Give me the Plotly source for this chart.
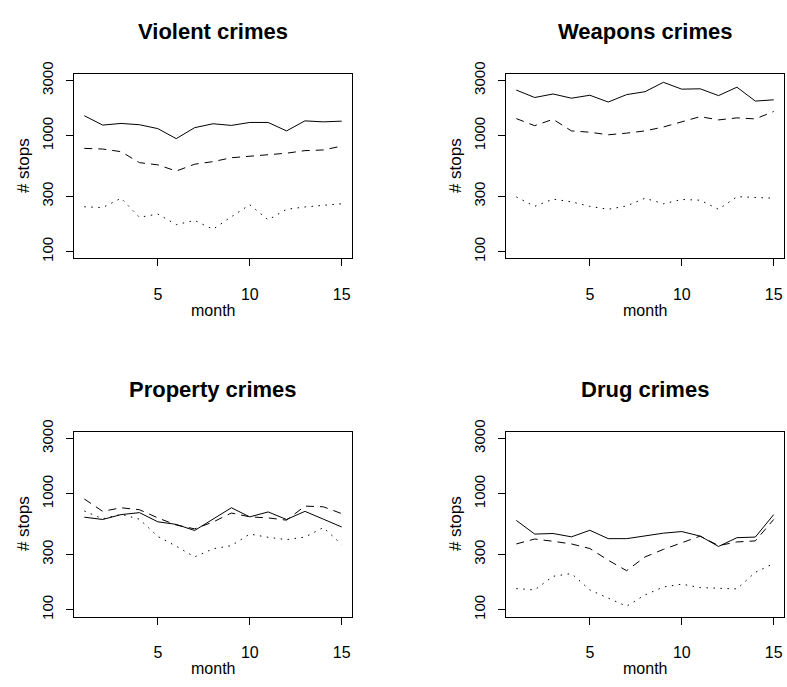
import plotly.graph_objects as go

months = list(range(1, 16))
panel_titles = ["Violent crimes", "Weapons crimes", "Property crimes", "Drug crimes"]
y_tickvals = [100, 300, 1000, 3000]
y_ticktext = ["100", "300", "1000", "3000"]
x_tickvals = [5, 10, 15]

violent_solid = [1489, 1236, 1277, 1245, 1152, 944, 1174, 1269, 1228, 1302, 1302, 1101, 1344, 1318, 1336]
violent_dashed = [778, 768, 729, 586, 561, 496, 568, 598, 646, 667, 693, 707, 744, 754, 814]
violent_dotted = [244, 240, 289, 198, 211, 171, 186, 156, 200, 254, 188, 232, 243, 251, 259]

weapons_solid = [2478, 2138, 2293, 2108, 2236, 1954, 2264, 2399, 2891, 2523, 2541, 2220, 2624, 1991, 2042]
weapons_dashed = [1406, 1221, 1388, 1101, 1073, 1019, 1053, 1101, 1190, 1318, 1462, 1370, 1426, 1398, 1619]
weapons_dotted = [297, 246, 284, 269, 246, 232, 248, 289, 259, 282, 278, 232, 298, 293, 289]

property_solid = [628, 600, 661, 687, 573, 544, 482, 604, 757, 632, 697, 600, 705, 604, 517]
property_dashed = [902, 705, 757, 728, 619, 537, 498, 570, 682, 632, 619, 592, 782, 772, 674]
property_dotted = [710, 608, 665, 603, 428, 353, 285, 335, 357, 449, 421, 402, 423, 511, 365]

drug_solid = [589, 449, 454, 425, 484, 410, 410, 436, 457, 472, 431, 351, 418, 423, 661]
drug_dashed = [369, 407, 389, 369, 337, 267, 217, 285, 331, 377, 431, 357, 384, 392, 600]
drug_dotted = [152, 148, 194, 205, 148, 125, 107, 134, 157, 166, 155, 153, 151, 210, 250]

panels = [
    (violent_solid, violent_dashed, violent_dotted),
    (weapons_solid, weapons_dashed, weapons_dotted),
    (property_solid, property_dashed, property_dotted),
    (drug_solid, drug_dashed, drug_dotted),
]

W, H = 787, 687
FONT = "Liberation Sans, Arial, Helvetica, sans-serif"
# plot boxes in pixels: (left, right, top, bottom)
boxes = [(74, 352, 63, 252), (506, 784, 63, 252),
         (74, 352, 429, 618), (506, 784, 429, 618)]

fig = go.Figure()
dashes = ["solid", "8px,6px", "1.5px,5.5px"]

for i, (series, box) in enumerate(zip(panels, boxes)):
    k = "" if i == 0 else str(i + 1)
    for s, d in zip(series, dashes):
        fig.add_trace(go.Scatter(x=months, y=s, mode="lines",
                                 line=dict(color="black", width=1, dash=d),
                                 xaxis="x" + k, yaxis="y" + k, showlegend=False,
                                 hoverinfo="skip"))
    l, r, t, b = box
    xd = [l / W, r / W]
    yd = [1 - b / H, 1 - t / H]
    fig.update_layout(**{
        "xaxis" + k: dict(domain=xd, range=[0.44, 15.56], tickvals=x_tickvals,
                          ticks="outside", ticklen=7, tickcolor="black",
                          showline=True, linecolor="black", linewidth=1, mirror=True,
                          showgrid=False, zeroline=False, ticklabelstandoff=14,
                          tickfont=dict(family=FONT, size=16, color="black"),
                          anchor="y" + k),
        "yaxis" + k: dict(domain=yd, type="log", range=[1.941, 3.536],
                          tickvals=y_tickvals, ticktext=y_ticktext, tickangle=-90,
                          ticks="outside", ticklen=7, tickcolor="black",
                          showline=True, linecolor="black", linewidth=1, mirror=True,
                          showgrid=False, zeroline=False, ticklabelstandoff=7,
                          tickfont=dict(family=FONT, size=15, color="black"),
                          anchor="x" + k),
    })
    cx = (l + r) / 2 / W
    fig.add_annotation(text="<b>" + panel_titles[i] + "</b>", x=cx, y=1 - (t - 43) / H,
                       xref="paper", yref="paper", showarrow=False,
                       font=dict(family=FONT, size=22, color="black"),
                       xanchor="center", yanchor="middle")
    fig.add_annotation(text="month", x=cx, y=1 - (b + 53) / H,
                       xref="paper", yref="paper", showarrow=False,
                       font=dict(family=FONT, size=16, color="black"),
                       xanchor="center", yanchor="middle")
    fig.add_annotation(text="# stops", x=(l - 51) / W, y=1 - (t + b) / 2 / H,
                       xref="paper", yref="paper", showarrow=False, textangle=-90,
                       font=dict(family=FONT, size=17, color="black"),
                       xanchor="center", yanchor="middle")

fig.update_layout(width=W, height=H, margin=dict(l=0, r=0, t=0, b=0),
                  paper_bgcolor="white", plot_bgcolor="white",
                  font=dict(family=FONT, color="black"))
fig.write_html("out.html", config={"responsive": False, "displayModeBar": False},
               post_script="document.body.style.margin='0';document.body.style.padding='0';")
